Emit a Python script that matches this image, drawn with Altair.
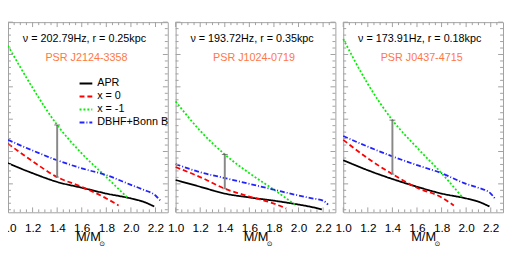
import altair as alt
import pandas as pd

FONT = "Liberation Sans"

# ---- categories / styles ----
SERIES = ["APR", "x = 0", "x = -1", "DBHF+Bonn B"]
COLORS = ["#000000", "#ff0000", "#00ee00", "#2222ff"]
DASHES = [[1, 0], [5, 3], [2, 2], [5, 2, 1, 2]]

# ---- masses (M/Msun) at which each EOS curve is read ----
APR_M = [1.0, 1.2, 1.4, 1.6, 1.8, 2.0, 2.1, 2.19]
X0_M = [1.0, 1.2, 1.4, 1.6, 1.8, 1.9]
XM1_M = [1.0, 1.2, 1.4, 1.6, 1.8, 1.97]
DBHF_M = [1.0, 1.2, 1.4, 1.6, 1.8, 2.0, 2.1, 2.2, 2.24]

# ---- panel 1 : PSR J2124-3358 ----
APR_1 = [1.64, 1.33, 1.06, 0.88, 0.70, 0.55, 0.45, 0.30]
X0_1 = [2.24, 1.70, 1.21, 0.91, 0.55, 0.33]
XM1_1 = [5.27, 3.97, 2.82, 1.94, 1.21, 0.58]
DBHF_1 = [2.36, 2.03, 1.73, 1.48, 1.27, 0.97, 0.82, 0.64, 0.48]
ERR_1 = [1.21, 2.82]

# ---- panel 2 : PSR J1024-0719 ----
APR_2 = [1.12, 0.91, 0.70, 0.58, 0.48, 0.36, 0.29, 0.21]
X0_2 = [1.52, 1.21, 0.85, 0.61, 0.39, 0.24]
XM1_2 = [3.55, 2.64, 1.91, 1.33, 0.82, 0.36]
DBHF_2 = [1.61, 1.36, 1.18, 1.00, 0.82, 0.64, 0.56, 0.48, 0.36]
ERR_2 = [0.85, 1.91]

# ---- panel 3 : PSR J0437-4715 ----
APR_3 = [1.73, 1.42, 1.15, 0.91, 0.70, 0.55, 0.45, 0.30]
X0_3 = [2.36, 1.79, 1.30, 0.88, 0.58, 0.33]
XM1_3 = [5.48, 4.09, 2.97, 2.12, 1.33, 0.58]
DBHF_3 = [2.48, 2.15, 1.85, 1.58, 1.33, 1.00, 0.88, 0.70, 0.52]
ERR_3 = [1.30, 2.97]

ERR_M = 1.4

HEADERS = ["ν = 202.79Hz, r = 0.25kpc", "ν = 193.72Hz, r = 0.35kpc", "ν = 173.91Hz, r = 0.18kpc"]
PSRS = ["PSR J2124-3358", "PSR J1024-0719", "PSR J0437-4715"]

# ---- axis ticks ----
X_LABELS = [1.0, 1.2, 1.4, 1.6, 1.8, 2.0, 2.2]
X_MINOR = [1.05, 1.1, 1.15, 1.25, 1.3, 1.35, 1.45, 1.5, 1.55, 1.65, 1.7, 1.75,
           1.85, 1.9, 1.95, 2.05, 2.1, 2.15, 2.25]
Y_MAJOR = [1, 2, 3, 4, 5, 6]
Y_MINOR = [0.2, 0.4, 0.6, 0.8, 1.2, 1.4, 1.6, 1.8, 2.2, 2.4, 2.6, 2.8, 3.2, 3.4, 3.6, 3.8,
           4.2, 4.4, 4.6, 4.8, 5.2, 5.4, 5.6, 5.8]

W, H = 163, 194
FRAME = "#a0a0a0"


def xs():
    return alt.Scale(domain=[1.0, 2.3], nice=False, zero=False)


def ys():
    return alt.Scale(domain=[0.12, 6.0], nice=False, zero=False)


def xaxis():
    return alt.Axis(values=X_LABELS, format=".1f", ticks=False, domain=False, grid=False,
                    labelFont=FONT, labelFontSize=12, labelColor="black",
                    labelPadding=19.5, labelBaseline="alphabetic", labelFlush=False,
                    labelOverlap=False, title="M/M", titleFont=FONT, titleFontSize=13,
                    titleFontWeight="normal", titleColor="black", titleY=29,
                    titleBaseline="alphabetic")


def X(field):
    return alt.X(field, scale=xs(), axis=xaxis())


def Y(field):
    return alt.Y(field, scale=ys(), axis=None)


def make_panel(apr, x0, xm1, dbhf, err, header, psr, show_legend):
    rows = []
    for name, ms, vs in [("APR", APR_M, apr), ("x = 0", X0_M, x0),
                         ("x = -1", XM1_M, xm1), ("DBHF+Bonn B", DBHF_M, dbhf)]:
        for m, v in zip(ms, vs):
            rows.append({"M": m, "v": v, "series": name})
    df = pd.DataFrame(rows)

    if show_legend:
        leg = alt.Legend(orient="none", legendX=72, legendY=55, title=None,
                         symbolType="stroke", symbolSize=169, symbolStrokeWidth=2,
                         labelFont=FONT, labelFontSize=11, labelColor="black",
                         rowPadding=0.3, padding=0, labelOffset=4)
        color = alt.Color("series:N", scale=alt.Scale(domain=SERIES, range=COLORS), legend=leg)
        dash = alt.StrokeDash("series:N", scale=alt.Scale(domain=SERIES, range=DASHES), legend=leg)
    else:
        color = alt.Color("series:N", scale=alt.Scale(domain=SERIES, range=COLORS), legend=None)
        dash = alt.StrokeDash("series:N", scale=alt.Scale(domain=SERIES, range=DASHES), legend=None)

    lines = alt.Chart(df).mark_line(strokeWidth=1.8, interpolate="monotone").encode(
        x=X("M:Q"), y=Y("v:Q"), color=color, strokeDash=dash)

    edf = pd.DataFrame({"M": [ERR_M], "lo": [err[0]], "hi": [err[1]]})
    ebar = alt.Chart(edf).mark_rule(color="#888888", strokeWidth=2).encode(
        x=X("M:Q"), y=Y("lo:Q"), y2="hi:Q")
    cap_hi = alt.Chart(edf).mark_tick(orient="horizontal", size=6, thickness=1,
                                      color="#444444").encode(x=X("M:Q"), y=Y("hi:Q"))
    cap_lo = alt.Chart(edf).mark_tick(orient="horizontal", size=4, thickness=1,
                                      color="#666666").encode(x=X("M:Q"), y=Y("lo:Q"))

    tick_layers = []
    for vals, ln in [(X_LABELS, 5), (X_MINOR, 3)]:
        d = pd.DataFrame({"t": vals})
        tick_layers.append(alt.Chart(d).mark_rule(color=FRAME, strokeWidth=1).encode(
            x=X("t:Q"), y=alt.value(H), y2=alt.value(H - ln)))
        tick_layers.append(alt.Chart(d).mark_rule(color=FRAME, strokeWidth=1).encode(
            x=X("t:Q"), y=alt.value(0), y2=alt.value(ln)))
    for vals, ln in [(Y_MAJOR, 5), (Y_MINOR, 3)]:
        d = pd.DataFrame({"t": vals})
        tick_layers.append(alt.Chart(d).mark_rule(color=FRAME, strokeWidth=1).encode(
            y=Y("t:Q"), x=alt.value(0), x2=alt.value(ln)))
        tick_layers.append(alt.Chart(d).mark_rule(color=FRAME, strokeWidth=1).encode(
            y=Y("t:Q"), x=alt.value(W), x2=alt.value(W - ln)))

    t1 = alt.Chart(pd.DataFrame({"s": [header]})).mark_text(
        font=FONT, fontSize=11, color="black", baseline="alphabetic", align="center").encode(
        text="s:N", x=alt.value(78), y=alt.value(20))
    t2 = alt.Chart(pd.DataFrame({"s": [psr]})).mark_text(
        font=FONT, fontSize=11, color="#ff7744", baseline="alphabetic", align="center").encode(
        text="s:N", x=alt.value(80), y=alt.value(40))
    sun = alt.Chart(pd.DataFrame({"s": ["⊙"]})).mark_text(
        font="DejaVu Sans", fontSize=7, color="black", baseline="middle", align="center").encode(
        text="s:N", x=alt.value(96), y=alt.value(H + 32))

    return alt.layer(lines, *tick_layers, ebar, cap_hi, cap_lo, t1, t2, sun).properties(
        width=W, height=H)


p1 = make_panel(APR_1, X0_1, XM1_1, DBHF_1, ERR_1, HEADERS[0], PSRS[0], True)
p2 = make_panel(APR_2, X0_2, XM1_2, DBHF_2, ERR_2, HEADERS[1], PSRS[1], False)
p3 = make_panel(APR_3, X0_3, XM1_3, DBHF_3, ERR_3, HEADERS[2], PSRS[2], False)

chart = alt.hconcat(p1, p2, p3, spacing=8, bounds="flush").properties(
    padding={"left": -9, "top": 11, "right": 0, "bottom": 0},
    background="white").configure_view(stroke=FRAME, strokeWidth=1)

chart.save("out.html", embed_options={"renderer": "svg", "actions": False})
